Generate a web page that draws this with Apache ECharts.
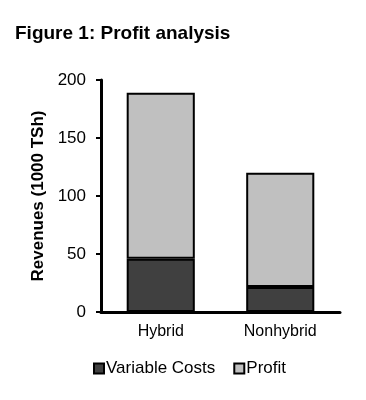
<!DOCTYPE html>
<html><head><meta charset="utf-8">
<script src="https://cdn.jsdelivr.net/npm/echarts@6/dist/echarts.min.js"></script>
<style>html,body{margin:0;padding:0;background:#fff}#c{width:366px;height:400px}</style>
</head><body><div id="c"></div>
<script>
const categories = ['Hybrid', 'Nonhybrid'];
const variableCosts = [46, 21.5];
const profit = [143, 98.5];
const yTicks = [0, 50, 100, 150, 200];

const chart = echarts.init(document.getElementById('c'));
const border = { borderColor: '#000', borderWidth: 2 };
chart.setOption({
  animation: false,
  textStyle: { fontFamily: 'Liberation Sans, Arial, sans-serif' },
  title: {
    text: 'Figure 1: Profit analysis', left: 10, top: 19,
    textStyle: { fontSize: 19, fontWeight: 'bold', color: '#000', fontFamily: 'Liberation Sans, Arial, sans-serif' }
  },
  grid: { left: 101, right: 26, top: 80, bottom: 88 },
  legend: {
    bottom: 18, left: 88, itemWidth: 10, itemHeight: 10, itemGap: 18,
    icon: 'rect',
    textStyle: { fontSize: 17, color: '#000', padding: [0, 0, 0, -3] },
    data: ['Variable Costs', 'Profit']
  },
  xAxis: {
    type: 'category', data: categories,
    axisLine: { lineStyle: { color: '#000', width: 3 } },
    axisTick: { show: false },
    axisLabel: { fontSize: 16, color: '#000', margin: 12 }
  },
  yAxis: {
    type: 'value', min: yTicks[0], max: yTicks[yTicks.length - 1], interval: 50,
    name: 'Revenues (1000 TSh)', nameLocation: 'middle', nameGap: 50,
    nameTextStyle: { fontSize: 17, fontWeight: 'bold', color: '#000' },
    axisLine: { show: true, lineStyle: { color: '#000', width: 3 } },
    axisTick: { show: true, length: 5, inside: false, lineStyle: { color: '#000', width: 2 } },
    axisLabel: { fontSize: 17, color: '#000', margin: 15 },
    splitLine: { show: false }
  },
  series: [
    { name: 'Variable Costs', type: 'bar', stack: 's', data: variableCosts, barWidth: '57%',
      itemStyle: Object.assign({ color: '#404040' }, border) },
    { name: 'Profit', type: 'bar', stack: 's', data: profit, barWidth: '57%',
      itemStyle: Object.assign({ color: '#c0c0c0' }, border) }
  ]
});
</script></body></html>
